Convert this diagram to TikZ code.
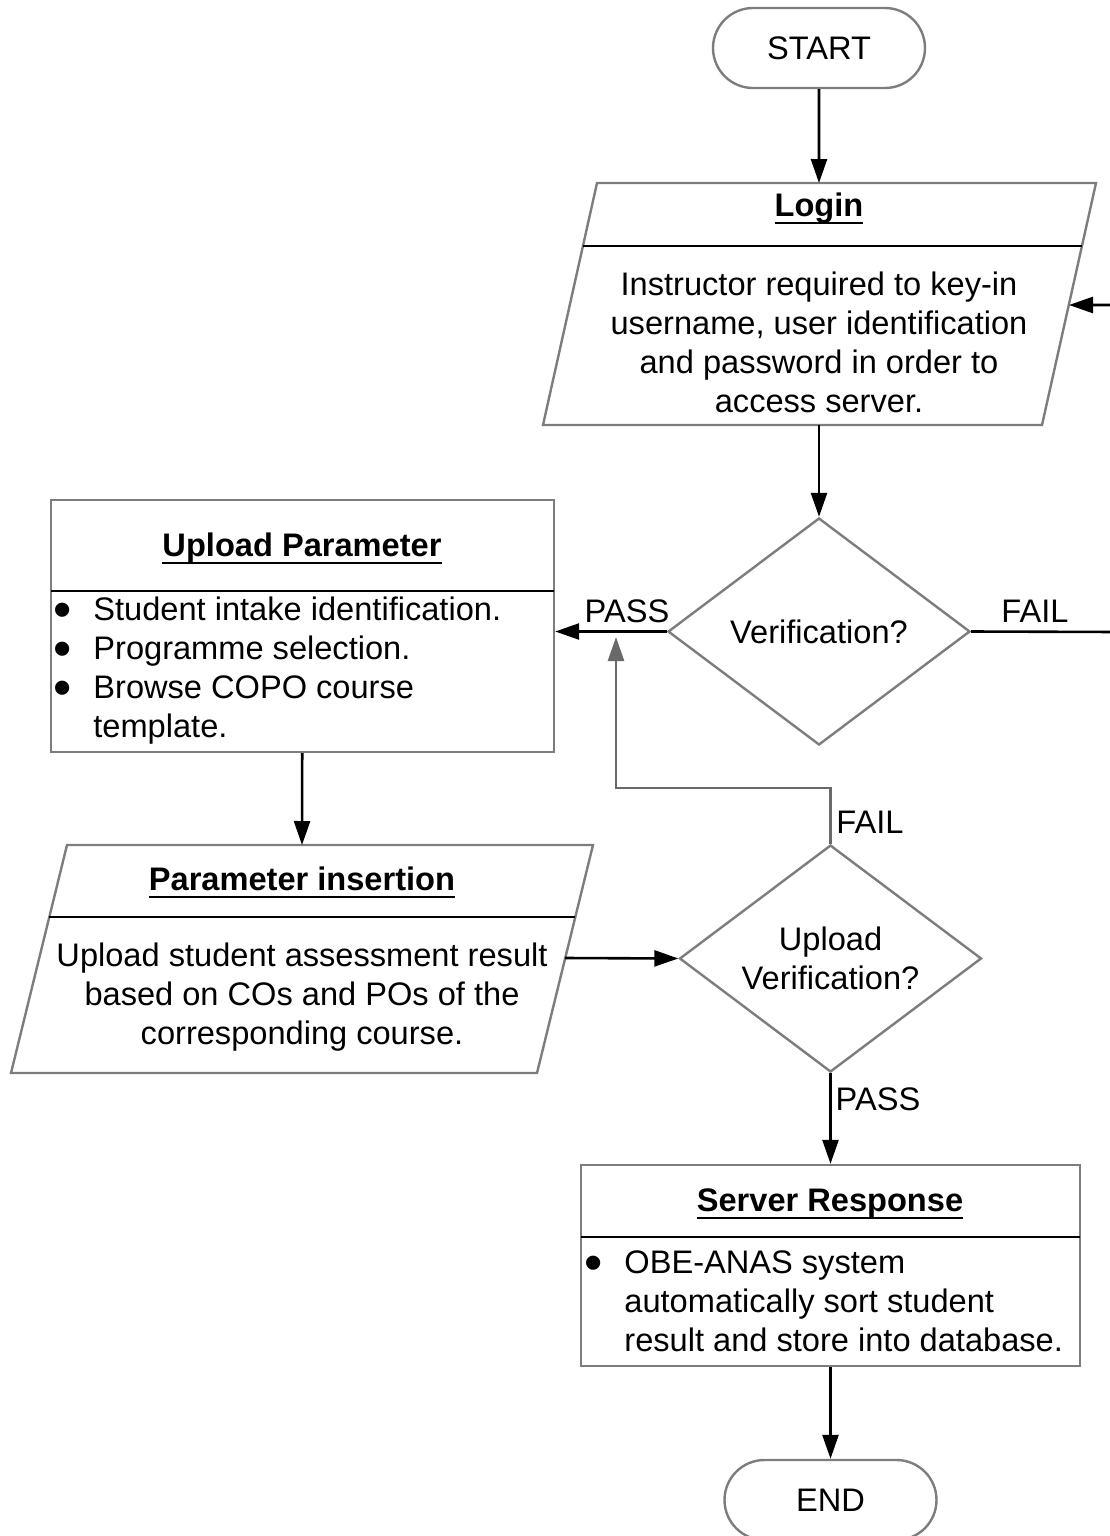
\documentclass[tikz,border=0pt]{standalone}
\usepackage{fontspec}
\setmainfont{Liberation Sans}
\usetikzlibrary{arrows.meta,shapes.geometric,shapes.misc,positioning,calc}
\definecolor{shapegray}{RGB}{125,125,125}
\definecolor{loopgray}{RGB}{105,105,105}
\newcommand{\heading}[1]{\setbox0\hbox{\bfseries #1}\rlap{\usebox0}\rule[-4pt]{\wd0}{1pt}}
\newcommand{\bul}{\llap{\smash{\raisebox{-3.5pt}{\scalebox{1.6}{\textbullet}}}\hspace{11pt}}}

\begin{document}
\begin{tikzpicture}[x=0.5pt,y=-0.5pt,
  font=\fontsize{16.3}{19.5}\selectfont,
  term/.style={draw=shapegray,line width=1.2pt,rounded rectangle,minimum width=106pt,minimum height=40pt,inner sep=0pt},
  decision/.style={draw=shapegray,line width=1.2pt,diamond,aspect=1.33,minimum width=151pt,minimum height=113.5pt,inner sep=0pt,align=center},
  box/.style={draw=shapegray,line width=1.2pt,rectangle,inner sep=0pt},
  io/.style={draw=shapegray,line width=1.2pt,line join=miter},
  divider/.style={draw=black,line width=1.2pt},
  flow/.style={-{Triangle[length=12pt,width=8pt]},line width=1.3pt},
  title/.style={inner sep=0pt,anchor=base},
  body/.style={inner sep=0pt,align=center},
  lbl/.style={inner sep=0pt}]
\useasboundingbox (0,0) rectangle (1109,1536);

\node[term] (start) at (819,48) {START};

\draw[io] (597,183) -- (1096,183) -- (1042,425) -- (543,425) -- cycle;
\draw[divider] (583,246) -- (1082,246);
\coordinate (login n) at (819,183);
\coordinate (login s) at (819,425);
\coordinate (login in) at (1069,305);
\node[title] (login title) at (819,216) {\heading{Login}};
\node[body] (login text) at (819,342) {Instructor required to key-in\\username, user identification\\and password in order to\\access server.};

\node[decision] (verify) at (819,631.5) {Verification?};
\coordinate (fail turn) at (1118,632);
\coordinate (pass join) at (616,637);
\coordinate (loop corner) at (616,788);

\node[box,minimum width=251.5pt,minimum height=126pt] (upload) at (302.5,626) {};
\draw[divider] (51,591) -- (554,591);
\node[title] (upload title) at (302,556) {\heading{Upload Parameter}};
\node[body,align=left,anchor=west] (upload list) at (93,671) {\bul Student intake identification.\\\bul Programme selection.\\\bul Browse COPO course\\template.};

\draw[io] (67,845) -- (593,845) -- (537,1073) -- (11,1073) -- cycle;
\draw[divider] (49,917) -- (575,917);
\coordinate (insert n) at (302,845);
\coordinate (insert out) at (565,958);
\node[title] (insert title) at (302,890) {\heading{Parameter insertion}};
\node[body] (insert text) at (302,997) {Upload student assessment result\\based on COs and POs of the\\corresponding course.};

\node[decision] (upverify) at (830.5,958.5) {Upload\\Verification?};

\node[box,minimum width=249.5pt,minimum height=100.5pt] (server) at (830.5,1265.5) {};
\draw[divider] (581,1237) -- (1080,1237);
\node[title] (server title) at (830,1211) {\heading{Server Response}};
\node[body,align=left,anchor=west] (server list) at (624,1301) {\bul OBE-ANAS system\\automatically sort student\\result and store into database.};

\node[term] (end) at (830.5,1500) {END};

\node[lbl] (pass upper) at (627,611) {PASS};
\node[lbl] (fail upper) at (1035,611) {FAIL};
\node[lbl] (fail lower) at (870,822) {FAIL};
\node[lbl] (pass lower) at (878,1099) {PASS};

\draw[flow] (start) -- (login n);
\draw[flow] (login s) -- (verify);
\draw[flow] (verify.west) -- (verify.west -| upload.east);
\draw[flow] (verify.east) -- (fail turn) |- (login in);
\draw[flow] (upload) -- (insert n);
\draw[flow] (insert out) -- (upverify.west);
\draw[flow,draw=loopgray] (upverify.north) |- (loop corner) -- (pass join);
\draw[flow] (upverify.south) -- (server.north);
\draw[flow] (server) -- (end);
\end{tikzpicture}
\end{document}
